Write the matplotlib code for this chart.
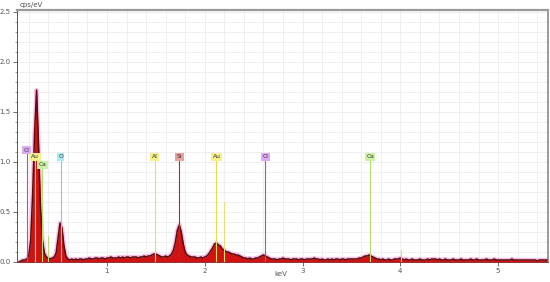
import numpy as np
import matplotlib
matplotlib.use("Agg")
import matplotlib.pyplot as plt
from matplotlib.ticker import MultipleLocator

# spectrum: counts (cps/eV) per 0.02 keV channel, starting at 0.10 keV
energy_start = 0.10
energy_step = 0.02
counts = [
    0.00, 0.01, 0.02, 0.02, 0.03, 0.06, 0.22, 0.68, 1.30, 1.72,
    1.18, 0.55, 0.22, 0.09, 0.05, 0.04, 0.03, 0.04, 0.05, 0.09,
    0.24, 0.39, 0.34, 0.16, 0.06, 0.03, 0.02, 0.03, 0.02, 0.03,
    0.02, 0.03, 0.03, 0.02, 0.03, 0.03, 0.04, 0.03, 0.03, 0.04,
    0.04, 0.03, 0.04, 0.04, 0.03, 0.04, 0.04, 0.05, 0.04, 0.04,
    0.04, 0.05, 0.04, 0.05, 0.04, 0.05, 0.05, 0.04, 0.05, 0.05,
    0.05, 0.04, 0.05, 0.05, 0.06, 0.05, 0.06, 0.06, 0.07, 0.08,
    0.08, 0.07, 0.06, 0.05, 0.05, 0.06, 0.05, 0.06, 0.08, 0.12,
    0.20, 0.32, 0.37, 0.30, 0.18, 0.10, 0.07, 0.06, 0.05, 0.05,
    0.05, 0.04, 0.04, 0.05, 0.04, 0.05, 0.06, 0.08, 0.11, 0.14,
    0.18, 0.19, 0.17, 0.16, 0.13, 0.12, 0.10, 0.10, 0.09, 0.08,
    0.08, 0.07, 0.07, 0.06, 0.05, 0.04, 0.04, 0.03, 0.04, 0.03,
    0.03, 0.04, 0.04, 0.05, 0.06, 0.07, 0.06, 0.05, 0.04, 0.03,
    0.03, 0.03, 0.02, 0.03, 0.03, 0.04, 0.03, 0.03, 0.03, 0.02,
    0.03, 0.03, 0.03, 0.02, 0.03, 0.03, 0.02, 0.03, 0.03, 0.03,
    0.03, 0.04, 0.03, 0.03, 0.02, 0.03, 0.02, 0.02, 0.03, 0.02,
    0.03, 0.02, 0.03, 0.03, 0.02, 0.03, 0.03, 0.02, 0.03, 0.03,
    0.03, 0.03, 0.03, 0.03, 0.04, 0.04, 0.05, 0.06, 0.06, 0.07,
    0.06, 0.05, 0.04, 0.03, 0.03, 0.02, 0.03, 0.02, 0.02, 0.03,
    0.02, 0.02, 0.03, 0.03, 0.03, 0.04, 0.03, 0.02, 0.03, 0.02,
    0.02, 0.03, 0.02, 0.02, 0.02, 0.03, 0.02, 0.02, 0.02, 0.03,
    0.02, 0.03, 0.03, 0.03, 0.02, 0.03, 0.02, 0.02, 0.03, 0.02,
    0.02, 0.02, 0.03, 0.02, 0.02, 0.02, 0.03, 0.02, 0.02, 0.02,
    0.02, 0.03, 0.02, 0.02, 0.03, 0.02, 0.02, 0.02, 0.02, 0.03,
    0.02, 0.02, 0.02, 0.03, 0.02, 0.02, 0.02, 0.02, 0.02, 0.02,
    0.02, 0.02, 0.03, 0.02, 0.02, 0.02, 0.02, 0.02, 0.02, 0.02,
    0.02, 0.02, 0.02, 0.02, 0.02, 0.01, 0.02, 0.02, 0.02, 0.02,
    0.02,
]

# element markers (label, line energy keV, label height)
marker_names = ["Cl", "Au", "Ca", "O", "Al", "Si", "Au", "Cl", "Ca"]
marker_energies = [0.18, 0.265, 0.34, 0.525, 1.487, 1.74, 2.12, 2.62, 3.69]
marker_heights = [1.12, 1.05, 0.97, 1.05, 1.05, 1.05, 1.05, 1.05, 1.05]

# unlabelled secondary lines (energy keV, top)
extra_energies = [0.40, 2.20, 4.01]
extra_tops = [0.26, 0.60, 0.12]
extra_colors = ["#b8dc78", "#e8e070", "#d8e070"]

face_colors = {"Cl": "#dcaaf0", "Au": "#f4f08c", "Ca": "#ccf0a4",
               "O": "#aaecf2", "Al": "#f4f08c", "Si": "#eaa0a0"}
line_colors = {"Cl": "#a050d0", "Au": "#e4dc50", "Ca": "#b0dc70",
               "O": "#88c8ec", "Al": "#e8e060", "Si": "#a03030"}

energy = energy_start + energy_step * np.arange(len(counts))

fig = plt.figure(figsize=(5.5, 2.82), dpi=100)
ax = fig.add_axes([17 / 550, 20 / 282, 531 / 550, 252 / 282])

# pink halo (fit envelope) behind spectrum
ax.plot(energy, counts, color="#f7c2e6", lw=3.2, solid_joinstyle="round", zorder=2)
ax.fill_between(energy, counts, color="#d01212", lw=0, zorder=3)
ax.plot(energy, counts, color="#5a0b0b", lw=1.1, zorder=4)

for name, e, h in zip(marker_names, marker_energies, marker_heights):
    ax.plot([e, e], [0, h - 0.04], color=line_colors[name], lw=0.8, zorder=5)
    ax.text(e, h, name, fontsize=4.3, ha="center", va="center", color="#333333",
            zorder=6, bbox=dict(boxstyle="square,pad=0.25", fc=face_colors[name],
                                ec="none"))

for e, top, c in zip(extra_energies, extra_tops, extra_colors):
    ax.plot([e, e], [0, top], color=c, lw=0.8, zorder=5)

ax.set_xlim(0.08, 5.51)
ax.set_ylim(0, 2.52)
ax.xaxis.set_major_locator(MultipleLocator(1))
ax.xaxis.set_minor_locator(MultipleLocator(0.2))
ax.yaxis.set_major_locator(MultipleLocator(0.5))
ax.yaxis.set_minor_locator(MultipleLocator(0.1))
ax.grid(which="both", color="#ededed", lw=0.6, zorder=0)
ax.set_axisbelow(True)

ax.tick_params(which="major", length=3, width=0.6, labelsize=5, colors="#555555", pad=1.5)
ax.tick_params(which="minor", length=1.5, width=0.5, colors="#777777")
ax.tick_params(axis="x", which="minor", length=0)

for side in ["left", "bottom"]:
    ax.spines[side].set_color("#555555")
    ax.spines[side].set_linewidth(0.7)
ax.spines["top"].set_color("#9a9a9a")
ax.spines["top"].set_linewidth(1.6)
ax.spines["right"].set_color("#9a9a9a")
ax.spines["right"].set_linewidth(1.4)

fig.text(20 / 550, 1 - 5 / 282, "cps/eV", fontsize=5, color="#555555", va="center")
fig.text(281 / 550, 1 - 274 / 282, "keV", fontsize=5, color="#555555",
         ha="center", va="center")

fig.savefig("out.png", dpi=100)
